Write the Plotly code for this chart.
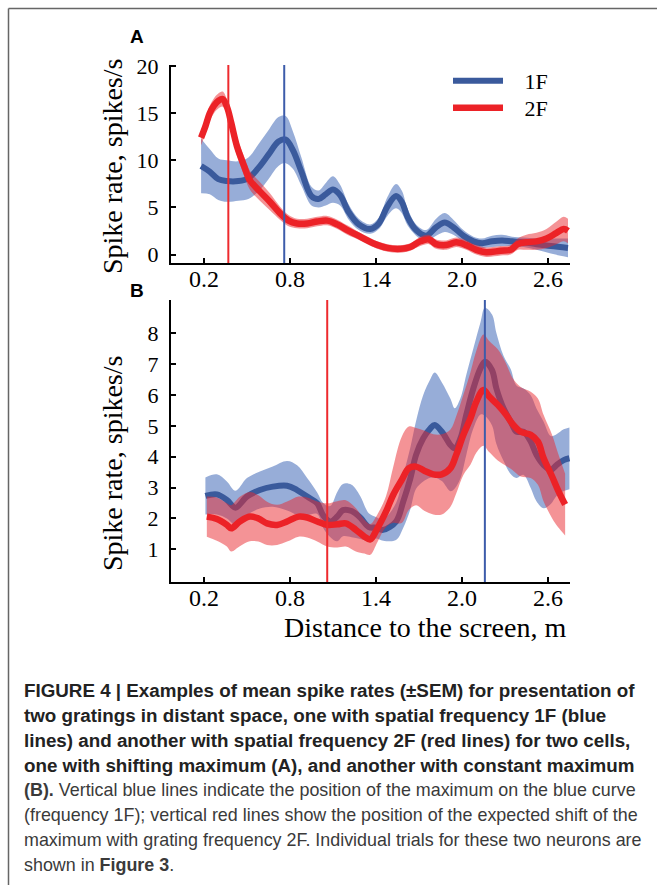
import plotly.graph_objects as go

W, H = 657, 885

# ---------------- Panel A: cell with shifting maximum ----------------
xa_1f = [0.18, 0.24, 0.30, 0.36, 0.44, 0.51, 0.58, 0.65, 0.72, 0.77, 0.82, 0.88,
         0.95, 1.00, 1.05, 1.10, 1.15, 1.21, 1.28, 1.36, 1.42, 1.48, 1.54, 1.58,
         1.62, 1.68, 1.75, 1.82, 1.88, 1.94, 2.01, 2.08, 2.14, 2.21, 2.28, 2.35,
         2.43, 2.52, 2.62, 2.74]
rate_a_1f = [9.4, 8.8, 8.0, 7.8, 7.8, 8.1, 9.2, 10.6, 12.0, 12.2, 11.1, 8.8,
             6.2, 5.9, 6.4, 6.9, 6.3, 4.5, 3.2, 2.7, 3.3, 5.1, 6.2, 5.6,
             4.0, 2.6, 2.0, 2.9, 3.4, 2.9, 2.0, 1.4, 1.2, 1.4, 1.5, 1.4,
             1.3, 1.1, 0.9, 0.7]
sem_a_1f = [2.9, 2.4, 2.2, 2.2, 2.1, 2.2, 2.5, 2.6, 2.6, 2.5, 2.0, 1.5,
            1.0, 0.9, 1.2, 1.4, 1.1, 0.8, 0.6, 0.5, 0.6, 1.0, 1.3, 1.2,
            0.9, 0.6, 0.6, 0.9, 1.0, 0.8, 0.6, 0.5, 0.5, 0.6, 0.6, 0.5,
            0.5, 0.6, 0.8, 1.0]

xa_2f = [0.18, 0.21, 0.24, 0.27, 0.30, 0.33, 0.36, 0.39, 0.43, 0.48, 0.52, 0.59,
         0.66, 0.73, 0.79, 0.85, 0.92, 0.99, 1.06, 1.13, 1.20, 1.29, 1.38, 1.48,
         1.57, 1.64, 1.71, 1.77, 1.82, 1.89, 1.96, 2.03, 2.10, 2.17, 2.27, 2.34,
         2.39, 2.45, 2.52, 2.59, 2.66, 2.71, 2.74]
rate_a_2f = [12.4, 13.6, 15.0, 15.8, 16.3, 16.5, 15.7, 14.0, 11.5, 9.4, 7.9, 6.7,
             5.6, 4.4, 3.6, 3.3, 3.3, 3.5, 3.6, 3.2, 2.6, 1.9, 1.2, 0.7,
             0.6, 0.8, 1.4, 1.6, 1.1, 1.0, 1.3, 1.0, 0.5, 0.25, 0.4, 0.5,
             1.1, 1.3, 1.4, 1.7, 2.3, 2.7, 2.5]
sem_a_2f = [0.8, 0.8, 0.8, 0.8, 0.8, 0.8, 0.8, 0.9, 1.0, 1.0, 1.0, 1.0,
            0.9, 0.7, 0.6, 0.5, 0.5, 0.5, 0.5, 0.5, 0.5, 0.4, 0.4, 0.4,
            0.4, 0.4, 0.5, 0.5, 0.5, 0.5, 0.5, 0.5, 0.5, 0.5, 0.5, 0.5,
            0.6, 0.8, 0.9, 1.0, 1.2, 1.3, 1.3]

# ---------------- Panel B: cell with constant maximum ----------------
xb_1f = [0.21, 0.29, 0.36, 0.42, 0.50, 0.59, 0.68, 0.78, 0.85, 0.92, 0.99, 1.03,
         1.08, 1.13, 1.17, 1.23, 1.29, 1.35, 1.40, 1.45, 1.54, 1.59, 1.64, 1.68,
         1.73, 1.78, 1.81, 1.86, 1.92, 1.95, 1.99, 2.03, 2.08, 2.13, 2.16, 2.21,
         2.24, 2.29, 2.34, 2.38, 2.43, 2.48, 2.52, 2.57, 2.62, 2.66, 2.71, 2.75]
rate_b_1f = [2.73, 2.78, 2.60, 2.35, 2.71, 2.92, 3.03, 3.06, 2.92, 2.71, 2.49, 2.11,
             1.90, 2.06, 2.27, 2.24, 2.03, 1.72, 1.70, 1.63, 1.90, 2.54, 3.30, 4.06,
             4.60, 4.92, 5.03, 4.81, 4.38, 4.27, 4.60, 5.35, 6.22, 6.87, 7.08, 6.81,
             6.22, 5.57, 5.14, 4.81, 4.81, 4.49, 4.06, 3.73, 3.57, 3.73, 3.89, 3.95]
sem_b_1f = [0.60, 0.65, 0.60, 0.55, 0.60, 0.60, 0.65, 0.80, 0.80, 0.60, 0.35, 0.40,
            0.50, 0.80, 0.85, 0.85, 0.70, 0.45, 0.35, 0.35, 0.60, 0.85, 1.00, 1.10,
            1.40, 1.60, 1.70, 1.60, 1.50, 1.30, 1.30, 1.30, 1.30, 1.50, 1.75, 1.80,
            1.80, 1.70, 1.70, 1.50, 1.40, 1.50, 1.50, 1.40, 1.10, 1.00, 1.00, 1.00]

xb_2f = [0.22, 0.29, 0.36, 0.39, 0.45, 0.52, 0.58, 0.64, 0.71, 0.78, 0.86, 0.92,
         0.99, 1.06, 1.13, 1.19, 1.26, 1.32, 1.36, 1.41, 1.47, 1.52, 1.58, 1.63,
         1.68, 1.74, 1.80, 1.86, 1.92, 1.96, 2.01, 2.06, 2.10, 2.15, 2.19, 2.25,
         2.31, 2.35, 2.41, 2.48, 2.53, 2.57, 2.63, 2.67, 2.72]
rate_b_2f = [2.06, 1.98, 1.79, 1.68, 1.90, 2.06, 2.00, 1.84, 1.79, 1.90, 2.06, 2.03,
             1.90, 1.79, 1.81, 1.84, 1.63, 1.41, 1.32, 1.68, 2.22, 2.76, 3.25, 3.63,
             3.68, 3.54, 3.43, 3.43, 3.63, 4.06, 4.71, 5.25, 5.78, 6.16, 5.95, 5.68,
             5.35, 5.08, 4.81, 4.71, 4.49, 3.95, 3.35, 2.92, 2.45]
sem_b_2f = [0.65, 0.70, 0.70, 0.75, 0.80, 0.80, 0.75, 0.70, 0.65, 0.65, 0.65, 0.65,
            0.65, 0.70, 0.75, 0.75, 0.70, 0.55, 0.50, 0.45, 0.50, 0.90, 1.40, 1.35,
            1.25, 1.30, 1.30, 1.30, 1.25, 1.25, 1.30, 1.50, 1.65, 1.80, 1.80, 1.80,
            1.65, 1.50, 1.45, 1.40, 1.40, 1.40, 1.35, 1.20, 1.00]

# Position of the 1F maximum and of the expected 2F shift
peak_a_1f, shift_a_2f = 0.76, 0.37
peak_b_1f, shift_b_2f = 2.16, 1.06

x_ticks = [0.2, 0.8, 1.4, 2.0, 2.6]
x_tick_text = ["0.2", "0.8", "1.4", "2.0", "2.6"]
y_ticks_a = [0, 5, 10, 15, 20]
y_ticks_b = [1, 2, 3, 4, 5, 6, 7, 8]

caption_bold = [
    "FIGURE 4 | Examples of mean spike rates (±SEM) for presentation of",
    "two gratings in distant space, one with spatial frequency 1F (blue",
    "lines) and another with spatial frequency 2F (red lines) for two cells,",
    "one with shifting maximum (A), and another with constant maximum",
]
caption_regular = [
    "<b>(B).</b> Vertical blue lines indicate the position of the maximum on the blue curve",
    "(frequency 1F); vertical red lines show the position of the expected shift of the",
    "maximum with grating frequency 2F. Individual trials for these two neurons are",
    "shown in <b>Figure 3</b>.",
]

BLUE_LINE = "#3a5a9c"
BLUE_BAND = "rgba(66,106,184,0.55)"
RED_LINE = "#ec2227"
RED_BAND = "rgba(234,40,46,0.5)"
VLINE_BLUE = "#3d5caa"
VLINE_RED = "#ee2a2e"

SERIF = "Liberation Serif"
SANS = "Liberation Sans"


def px_x(p):
    return p / W


def px_y(p):
    return 1 - p / H


fig = go.Figure()


def add_series(x, mean, sem, band_color, line_color, width, xa, ya, name, legend):
    lower = [m - s for m, s in zip(mean, sem)]
    upper = [m + s for m, s in zip(mean, sem)]
    fig.add_trace(go.Scatter(x=x, y=lower, mode="lines", line=dict(width=0, shape="spline", smoothing=1),
                             showlegend=False, hoverinfo="skip", xaxis=xa, yaxis=ya))
    fig.add_trace(go.Scatter(x=x, y=upper, mode="lines", line=dict(width=0, shape="spline", smoothing=1),
                             fill="tonexty", fillcolor=band_color, showlegend=False,
                             hoverinfo="skip", xaxis=xa, yaxis=ya))
    fig.add_trace(go.Scatter(x=x, y=mean, mode="lines", name=name,
                             showlegend=legend is not None, legend=legend or "legend",
                             line=dict(color=line_color, width=width, shape="spline", smoothing=1),
                             xaxis=xa, yaxis=ya))


add_series(xa_1f, rate_a_1f, sem_a_1f, BLUE_BAND, BLUE_LINE, 6, "x", "y", "\u00a0\u00a0\u00a01F", "legend")
add_series(xa_2f, rate_a_2f, sem_a_2f, RED_BAND, RED_LINE, 6.5, "x", "y", "\u00a0\u00a0\u00a02F", "legend2")
add_series(xb_1f, rate_b_1f, sem_b_1f, BLUE_BAND, BLUE_LINE, 6, "x2", "y2", "1F", None)
add_series(xb_2f, rate_b_2f, sem_b_2f, RED_BAND, RED_LINE, 6.5, "x2", "y2", "2F", None)

# vertical markers for maximum / expected shift
for xv, col, xr, yr in [(shift_a_2f, VLINE_RED, "x", "y domain"),
                        (peak_a_1f, VLINE_BLUE, "x", "y domain"),
                        (shift_b_2f, VLINE_RED, "x2", "y2 domain"),
                        (peak_b_1f, VLINE_BLUE, "x2", "y2 domain")]:
    fig.add_shape(type="line", xref=xr, yref=yr, x0=xv, x1=xv, y0=0, y1=1,
                  line=dict(color=col, width=2))

# page frame
fig.add_shape(type="line", xref="paper", yref="paper", x0=px_x(8.5), x1=1,
              y0=px_y(8.5), y1=px_y(8.5), line=dict(color="#666666", width=1.5))
fig.add_shape(type="line", xref="paper", yref="paper", x0=px_x(8.5), x1=px_x(8.5),
              y0=0, y1=px_y(8.5), line=dict(color="#666666", width=1.5))

axis_common = dict(showline=True, linecolor="black", linewidth=2, ticks="inside",
                   ticklen=5, tickwidth=2, tickcolor="black", showgrid=False,
                   zeroline=False, mirror=False, automargin=False)
x_dom = [px_x(171), px_x(570)]
x_axis = dict(range=[-0.03, 2.754], tickvals=x_ticks, ticktext=x_tick_text,
              tickfont=dict(family=SERIF, size=24, color="black"),
              ticklabelstandoff=-7, **axis_common)
legend_style = dict(x=px_x(448), xanchor="left", yanchor="top",
                    font=dict(family=SERIF, size=22, color="black"),
                    bgcolor="rgba(0,0,0,0)", itemwidth=50)

fig.update_layout(
    width=W, height=H,
    margin=dict(l=0, r=0, t=0, b=0, autoexpand=False),
    paper_bgcolor="white", plot_bgcolor="white",
    xaxis=dict(domain=x_dom, anchor="y", **x_axis),
    yaxis=dict(domain=[px_y(263), px_y(65)], anchor="x", range=[-0.9, 20.12],
               tickvals=y_ticks_a, tickfont=dict(family=SERIF, size=22, color="black"),
               ticklabelstandoff=6, **axis_common),
    xaxis2=dict(domain=x_dom, anchor="y2", **x_axis),
    yaxis2=dict(domain=[px_y(582), px_y(300)], anchor="x2", range=[-0.06, 9.08],
                tickvals=y_ticks_b, tickfont=dict(family=SERIF, size=22, color="black"),
                ticklabelstandoff=6, **axis_common),
    legend=dict(y=px_y(60), **legend_style),
    legend2=dict(y=px_y(87), **legend_style),
    showlegend=True,
)

ann = []
for lbl, yc in (("A", 37), ("B", 291)):
    ann.append(dict(text="<b>%s</b>" % lbl, x=px_x(137), y=px_y(yc), xref="paper", yref="paper",
                    xanchor="center", yanchor="middle", showarrow=False,
                    font=dict(family=SANS, size=19, color="black")))
for yc in (167, 464):
    ann.append(dict(text="Spike rate, spikes/s", textangle=-90, x=px_x(112), y=px_y(yc),
                    xref="paper", yref="paper", xanchor="center", yanchor="middle",
                    showarrow=False, font=dict(family=SERIF, size=28, color="black")))
ann.append(dict(text="Distance to the screen, m", x=px_x(568), y=px_y(627), xanchor="right",
                yanchor="middle", xref="paper", yref="paper", showarrow=False,
                font=dict(family=SERIF, size=28, color="black")))
for i, line in enumerate(caption_bold):
    ann.append(dict(text="<b>%s</b>" % line, x=px_x(22), y=px_y(690 + 25 * i), xanchor="left",
                    yanchor="middle", xref="paper", yref="paper", showarrow=False,
                    align="left", font=dict(family=SANS, size=18.8, color="#222222")))
for i, line in enumerate(caption_regular):
    ann.append(dict(text=line, x=px_x(22), y=px_y(790 + 25 * i), xanchor="left",
                    yanchor="middle", xref="paper", yref="paper", showarrow=False,
                    align="left", font=dict(family=SANS, size=17.9, color="#3a3a3a")))
fig.update_layout(annotations=ann)

fig.write_html("out.html", config={"displayModeBar": False})
